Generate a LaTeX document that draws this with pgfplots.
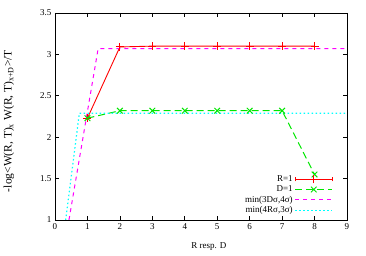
\documentclass[border=0pt]{standalone}
\usepackage{pgfplots}
\pgfplotsset{compat=1.18}
\usepackage{fontspec}
\setmainfont{Liberation Serif}
\definecolor{gred}{RGB}{255,0,0}
\definecolor{ggreen}{RGB}{0,230,0}
\definecolor{gmag}{RGB}{255,0,255}
\definecolor{gcyan}{RGB}{0,255,255}
\begin{document}
\begin{tikzpicture}
\begin{axis}[
  scale only axis, width=292pt, height=207pt,
  xmin=0, xmax=9, ymin=1, ymax=3.5,
  xtick={0,1,...,9}, ytick={1,1.5,2,2.5,3,3.5},
  yticklabels={1,1.5,2,2.5,3,3.5},
  tick align=inside, major tick length=4pt,
  tick style={black, line width=0.6pt},
  axis line style={black, line width=0.8pt},
  /pgf/number format/assume math mode=true,
  tick label style={font=\fontsize{9}{10}\selectfont},
  xlabel={R resp. D},
  ylabel={-log<W(R, T)\textsubscript{x} W(R, T)\textsubscript{x+D}>/T},
  xlabel style={font=\fontsize{9}{10}\selectfont, at={(axis description cs:0.527,-0.126)}, anchor=center},
  ylabel style={font=\fontsize{11.5}{12}\selectfont, at={(axis description cs:-0.158,0.478)}, anchor=center},
  legend style={at={(axis cs:8.57,1.042)}, anchor=south east, draw=none, fill=none,
    font=\fontsize{9}{10}\selectfont, row sep=-1.2pt, inner sep=0pt},
  legend cell align=right,
  legend plot pos=right,
  legend image code/.code={\draw[mark repeat=2,mark phase=2,#1] plot coordinates {(0cm,0cm) (0.65cm,0cm) (1.3cm,0cm)};},
]
\addplot[gred, line width=0.9pt, mark=+, mark size=4pt, mark options={solid, line width=0.9pt},
  legend image code/.code={\draw[gred,line width=0.9pt] (0cm,0cm) -- (1.3cm,0cm);
    \draw[gred,line width=0.9pt] (0cm,-2pt) -- (0cm,2pt);
    \draw[gred,line width=0.9pt] (1.3cm,-2pt) -- (1.3cm,2pt);
    \draw[gred,line width=0.9pt] (0.65cm,-4pt) -- (0.65cm,4pt);}]
  coordinates {(1,2.23) (2,3.09) (3,3.10) (4,3.10) (5,3.10) (6,3.10) (7,3.10) (8,3.10)};
\addlegendentry{R=1}
\addplot[ggreen, line width=1pt, dash pattern=on 7pt off 4pt, mark=x, mark size=4pt, mark options={solid, line width=1pt}]
  coordinates {(1,2.23) (2,2.32) (3,2.32) (4,2.32) (5,2.32) (6,2.32) (7,2.32) (8,1.55)};
\addlegendentry{D=1}
\addplot[gmag, line width=1pt, dash pattern=on 4pt off 4pt]
  coordinates {(0.43,1) (1.33,3.07) (9,3.07)};
\addlegendentry{min(3Dσ,4σ)}
\addplot[gcyan, line width=1.2pt, dash pattern=on 1.5pt off 2.5pt]
  coordinates {(0.33,1) (0.75,2.29) (9,2.29)};
\addlegendentry{min(4Rσ,3σ)}
\end{axis}
\path[use as bounding box] (-55pt,-36pt) rectangle (311pt,220pt);
\end{tikzpicture}
\end{document}
